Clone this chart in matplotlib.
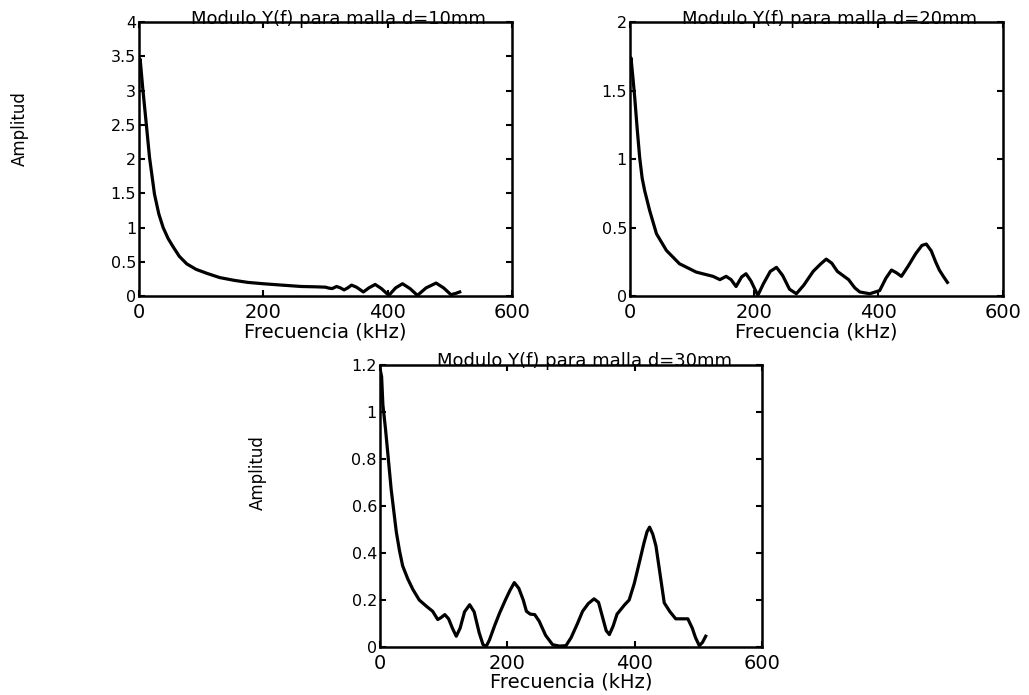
import matplotlib
matplotlib.use("Agg")
import matplotlib.pyplot as plt

# Modulo Y(f) for three mesh sizes
freq_10 = [0, 2, 6, 12, 17, 25, 32, 39, 47, 55, 65, 77, 92, 110, 130, 153, 175, 200,
           230, 261, 285, 300, 306, 311, 318, 324, 330, 336, 342, 350, 361, 370, 380,
           390, 402, 413, 424, 436, 448, 462, 478, 490, 502, 510, 516]
amp_10 = [3.3, 3.46, 3.05, 2.5, 2.03, 1.49, 1.2, 1.0, 0.84, 0.72, 0.58, 0.47, 0.39,
          0.33, 0.27, 0.23, 0.2, 0.18, 0.16, 0.14, 0.135, 0.13, 0.115, 0.11, 0.14,
          0.12, 0.09, 0.12, 0.16, 0.13, 0.06, 0.12, 0.17, 0.11, 0.01, 0.12, 0.18,
          0.11, 0.01, 0.12, 0.19, 0.12, 0.02, 0.04, 0.06]

freq_20 = [0, 2, 5, 8, 12, 16, 20, 24, 32, 43, 59, 80, 107, 134, 145, 155, 163, 171,
           180, 187, 195, 206, 215, 226, 236, 246, 257, 268, 280, 295, 306, 316, 325,
           334, 343, 352, 362, 370, 386, 402, 412, 421, 429, 437, 448, 460, 470, 477,
           485, 492, 498, 505, 511]
amp_20 = [1.68, 1.74, 1.6, 1.45, 1.22, 1.01, 0.86, 0.77, 0.625, 0.455, 0.333, 0.236,
          0.175, 0.144, 0.12, 0.144, 0.12, 0.07, 0.14, 0.163, 0.11, 0.005, 0.09, 0.18,
          0.21, 0.15, 0.05, 0.017, 0.08, 0.18, 0.23, 0.27, 0.24, 0.18, 0.15, 0.12,
          0.06, 0.03, 0.017, 0.04, 0.13, 0.19, 0.17, 0.144, 0.22, 0.31, 0.37, 0.38,
          0.33, 0.25, 0.19, 0.14, 0.10]

freq_30 = [0, 3, 5, 9, 13, 18, 22, 26, 31, 36, 44, 52, 62, 73, 83, 91, 96, 102, 108,
           114, 120, 126, 133, 141, 148, 156, 162, 167, 172, 180, 188, 197, 204, 211,
           218, 225, 230, 236, 243, 250, 260, 271, 282, 292, 300, 310, 318, 327, 336,
           343, 350, 355, 360, 366, 372, 378, 384, 391, 399, 407, 414, 419, 423, 428,
           433, 440, 446, 455, 464, 472, 483, 490, 495, 501, 506, 511]
amp_30 = [1.19, 1.15, 1.03, 0.93, 0.815, 0.67, 0.58, 0.49, 0.41, 0.345, 0.29, 0.245,
          0.2, 0.174, 0.152, 0.117, 0.125, 0.138, 0.12, 0.08, 0.046, 0.08, 0.15, 0.18,
          0.15, 0.06, 0.01, 0.003, 0.03, 0.09, 0.145, 0.2, 0.24, 0.274, 0.25, 0.2,
          0.152, 0.14, 0.138, 0.11, 0.05, 0.01, 0.004, 0.006, 0.04, 0.1, 0.152, 0.185,
          0.205, 0.19, 0.12, 0.07, 0.053, 0.09, 0.14, 0.16, 0.18, 0.2, 0.27, 0.36,
          0.44, 0.49, 0.51, 0.48, 0.43, 0.3, 0.188, 0.15, 0.12, 0.12, 0.12, 0.08,
          0.04, 0.006, 0.02, 0.046]

x_ticks = [0, 200, 400, 600]
y_ticks_10 = [0, 0.5, 1, 1.5, 2, 2.5, 3, 3.5, 4]
y_ticks_20 = [0, 0.5, 1, 1.5, 2]
y_ticks_30 = [0, 0.2, 0.4, 0.6, 0.8, 1, 1.2]

titles = ["Modulo Y(f) para malla d=10mm",
          "Modulo Y(f) para malla d=20mm",
          "Modulo Y(f) para malla d=30mm"]


def style_axes(ax, x, y, yticks, title):
    ax.plot(x, y, color="black", lw=2.3, solid_joinstyle="round")
    ax.set_xlim(0, 600)
    ax.set_ylim(yticks[0], yticks[-1])
    ax.set_xticks(x_ticks)
    ax.set_xticklabels([str(t) for t in x_ticks], fontsize=14)
    ax.set_yticks(yticks)
    ax.set_yticklabels([f"{t:g}" for t in yticks], fontsize=11.5)
    ax.tick_params(direction="in", top=True, right=True, length=4, width=1.5,
                   pad=2)
    ax.tick_params(axis="x", pad=5)
    for sp in ax.spines.values():
        sp.set_linewidth(1.8)
    ax.text(0.535, 0.995, title, transform=ax.transAxes, ha="center",
            va="baseline", fontsize=13)
    ax.set_xlabel("Frecuencia (kHz)", fontsize=14, labelpad=0)


fig = plt.figure(figsize=(10.29, 6.95), dpi=100)

ax1 = fig.add_axes([0.135, 0.574, 0.3625, 0.394])
style_axes(ax1, freq_10, amp_10, y_ticks_10, titles[0])

ax2 = fig.add_axes([0.612, 0.574, 0.3625, 0.394])
style_axes(ax2, freq_20, amp_20, y_ticks_20, titles[1])

ax3 = fig.add_axes([0.369, 0.069, 0.372, 0.406])
style_axes(ax3, freq_30, amp_30, y_ticks_30, titles[2])

fig.text(20 / 1029, 1 - 129 / 695, "Amplitud", rotation=90, ha="center",
         va="center", fontsize=12)
fig.text(258 / 1029, 1 - 473 / 695, "Amplitud", rotation=90, ha="center",
         va="center", fontsize=12)

fig.savefig("out.png", dpi=100)
